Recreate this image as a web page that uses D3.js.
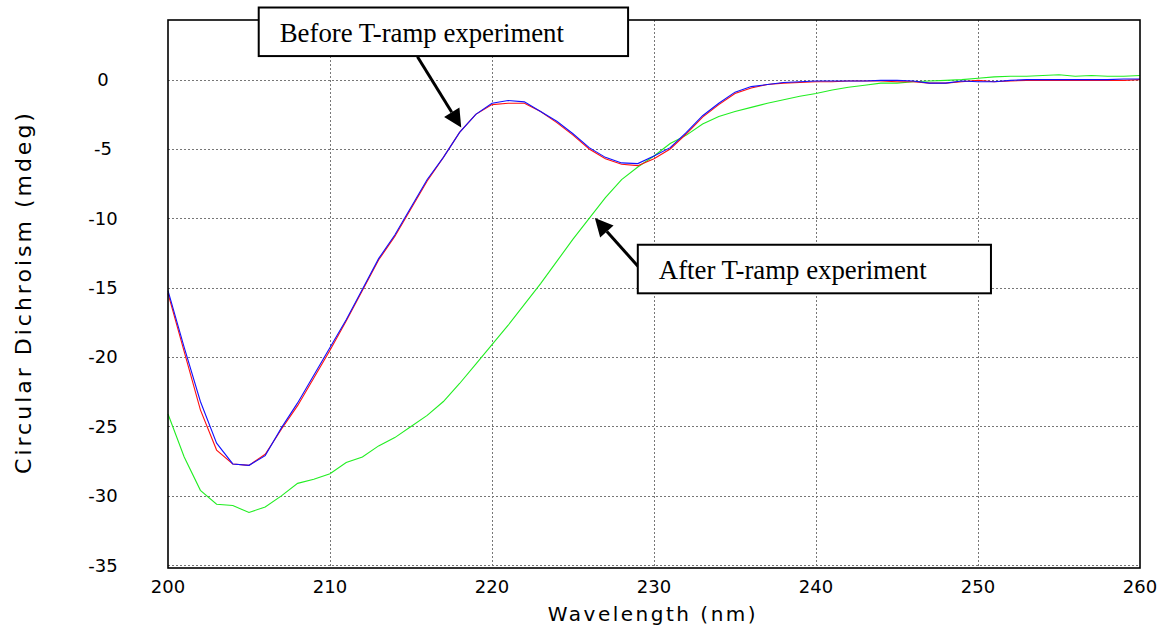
<!DOCTYPE html>
<html><head><meta charset="utf-8">
<script src="https://cdn.jsdelivr.net/npm/d3@7"></script>
<style>html,body{margin:0;padding:0;background:#fff;}svg{display:block;}</style>
</head><body>
<svg id="chart" width="1161" height="628"></svg>
<script>
const wavelengths = [200,201,202,203,204,205,206,207,208,209,210,211,212,213,214,215,216,217,218,219,220,221,222,223,224,225,226,227,228,229,230,231,232,233,234,235,236,237,238,239,240,241,242,243,244,245,246,247,248,249,250,251,252,253,254,255,256,257,258,259,260];
const blueCD = [-15.2,-19.3,-23.2,-26.2,-27.7,-27.8,-27.1,-25.1,-23.3,-21.3,-19.3,-17.3,-15.1,-12.9,-11.2,-9.2,-7.2,-5.6,-3.8,-2.5,-1.7,-1.5,-1.6,-2.3,-3.0,-3.9,-4.9,-5.6,-6.0,-6.05,-5.5,-4.9,-3.8,-2.6,-1.7,-0.9,-0.5,-0.35,-0.2,-0.15,-0.1,-0.1,-0.1,-0.1,-0.05,-0.05,-0.1,-0.25,-0.25,-0.1,-0.15,-0.15,-0.05,0,0,0,0,0,0,0.05,0.05];
const redCD = [-15.4,-19.6,-23.8,-26.7,-27.7,-27.8,-27.0,-25.2,-23.5,-21.5,-19.5,-17.4,-15.2,-13.0,-11.3,-9.3,-7.3,-5.6,-3.8,-2.5,-1.8,-1.7,-1.7,-2.3,-3.1,-4.0,-5.0,-5.7,-6.1,-6.2,-5.7,-5.0,-3.9,-2.7,-1.8,-1.0,-0.6,-0.35,-0.25,-0.2,-0.15,-0.15,-0.1,-0.1,-0.1,-0.15,-0.15,-0.25,-0.25,-0.15,-0.05,-0.15,-0.1,-0.05,-0.05,-0.05,-0.05,-0.05,-0.05,-0.05,0];
const greenCD = [-24.1,-27.2,-29.6,-30.6,-30.7,-31.2,-30.8,-30.0,-29.1,-28.8,-28.4,-27.6,-27.2,-26.4,-25.8,-25.0,-24.2,-23.2,-21.9,-20.5,-19.1,-17.7,-16.2,-14.7,-13.1,-11.5,-10.0,-8.5,-7.2,-6.3,-5.5,-4.6,-4.0,-3.2,-2.65,-2.3,-2.0,-1.7,-1.45,-1.2,-1.0,-0.75,-0.55,-0.4,-0.25,-0.25,-0.15,-0.1,-0.05,0,0.1,0.2,0.25,0.25,0.3,0.35,0.25,0.3,0.25,0.25,0.3];
const xTicks = [200,210,220,230,240,250,260];
const yTicks = [0,-5,-10,-15,-20,-25,-30,-35];
const xTitle = "Wavelength (nm)";
const yTitle = "Circular Dichroism (mdeg)";
const annoBefore = {text:"Before T-ramp experiment", box:[205.6,228.4,5.2,1.7], tail:[215.4,1.65], tip:[218.1,-3.45]};
const annoAfter  = {text:"After T-ramp experiment", box:[229.0,250.8,-11.9,-15.4], tail:[229.05,-13.5], tip:[226.35,-9.98]};

const svg = d3.select("#chart");
const x = d3.scaleLinear().domain([200,260]).range([168,1140]);
const y = d3.scaleLinear().domain([-35.2,4.3]).range([568,20]);

// grid
const gridStyle = g => g.attr("stroke","#777").attr("stroke-width",1).attr("stroke-dasharray","2,2").attr("fill","none");
svg.append("g").selectAll("line").data(xTicks.filter(d=>d>200&&d<260)).join("line")
  .attr("x1",d=>Math.round(x(d))+0.5).attr("x2",d=>Math.round(x(d))+0.5)
  .attr("y1",y.range()[1]).attr("y2",y.range()[0]).call(gridStyle);
svg.append("g").selectAll("line").data(yTicks).join("line")
  .attr("x1",x.range()[0]).attr("x2",x.range()[1])
  .attr("y1",d=>Math.round(y(d))+0.5).attr("y2",d=>Math.round(y(d))+0.5).call(gridStyle);

// lines
const line = vals => d3.line().x((d,i)=>x(wavelengths[i])).y(d=>y(d))(vals);
[[greenCD,"#22ee22"],[redCD,"#ff1010"],[blueCD,"#1010ff"]].forEach(([v,c])=>{
  svg.append("path").attr("d",line(v)).attr("fill","none").attr("stroke",c).attr("stroke-width",1.1);
});

// frame
svg.append("rect").attr("x",x.range()[0]).attr("y",y.range()[1])
  .attr("width",x.range()[1]-x.range()[0]).attr("height",y.range()[0]-y.range()[1])
  .attr("fill","none").attr("stroke","#000").attr("stroke-width",1.6);

// tick labels
svg.append("g").selectAll("text").data(xTicks).join("text")
  .attr("x",d=>x(d)).attr("y",593).attr("text-anchor","middle")
  .attr("font-family","DejaVu Sans, Verdana, sans-serif").attr("font-size",18).attr("fill","#000")
  .text(d=>d);
svg.append("g").selectAll("text").data(yTicks).join("text")
  .attr("x",103).attr("y",d=>y(d)).attr("dy","0.35em").attr("text-anchor","middle")
  .attr("font-family","DejaVu Sans, Verdana, sans-serif").attr("font-size",18).attr("fill","#000")
  .text(d=>d);

// axis titles
svg.append("text").attr("x",653).attr("y",621).attr("text-anchor","middle")
  .attr("font-family","DejaVu Sans, Verdana, sans-serif").attr("font-size",20).attr("letter-spacing",2.5)
  .text(xTitle);
svg.append("text").attr("transform","translate(31,292) rotate(-90)").attr("text-anchor","middle")
  .attr("font-family","DejaVu Sans, Verdana, sans-serif").attr("font-size",22).attr("letter-spacing",3)
  .text(yTitle);

// annotations
function arrow(a){
  const x1=x(a.tail[0]), y1=y(a.tail[1]), x2=x(a.tip[0]), y2=y(a.tip[1]);
  const ang=Math.atan2(y2-y1,x2-x1), L=18, W=9;
  const bx=x2-L*Math.cos(ang), by=y2-L*Math.sin(ang);
  svg.append("line").attr("x1",x1).attr("y1",y1).attr("x2",bx).attr("y2",by)
    .attr("stroke","#000").attr("stroke-width",3);
  const p=[[x2,y2],[bx+W*Math.sin(ang),by-W*Math.cos(ang)],[bx-W*Math.sin(ang),by+W*Math.cos(ang)]];
  svg.append("polygon").attr("points",p.map(q=>q.join(",")).join(" ")).attr("fill","#000");
}
function box(a){
  const x0=x(a.box[0]), x1=x(a.box[1]), y0=y(a.box[2]), y1=y(a.box[3]);
  svg.append("rect").attr("x",x0).attr("y",y0).attr("width",x1-x0).attr("height",y1-y0)
    .attr("fill","#fff").attr("stroke","#000").attr("stroke-width",2);
  svg.append("text").attr("x",x0+21).attr("y",y0+34.5)
    .attr("font-family","Liberation Serif, Times New Roman, serif").attr("font-size",26.8)
    .attr("fill","#000").text(a.text);
}
box(annoBefore); arrow(annoBefore);
arrow(annoAfter); box(annoAfter);
</script>
</body></html>
